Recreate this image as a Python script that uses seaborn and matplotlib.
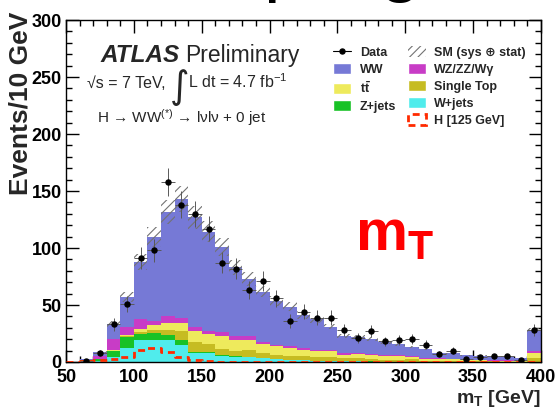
import numpy as np
import pandas as pd
import seaborn as sns
import matplotlib.pyplot as plt
from matplotlib.patches import Patch
from matplotlib.lines import Line2D
from matplotlib.ticker import MultipleLocator

sns.set_theme(style='ticks')
plt.rcParams['font.family'] = ['Liberation Sans', 'DejaVu Sans']
plt.rcParams['mathtext.fontset'] = 'custom'
plt.rcParams['mathtext.rm'] = 'Liberation Sans'
plt.rcParams['mathtext.it'] = 'Liberation Sans:italic'
plt.rcParams['mathtext.bf'] = 'Liberation Sans:bold'
plt.rcParams['hatch.linewidth'] = 0.8

# %% m_T distribution, H -> WW -> lvlv + 0 jet, 10 GeV bins from 50 to 400 GeV
bin_lo = list(range(50, 400, 10))

w_jets = [0, 0.5, 1, 4, 12, 19.5, 19.6, 19, 14.5, 8, 7.5, 5, 4.4, 4, 3.2, 2.3, 1.8, 1.4,
          1.0, 0.9, 0.6, 0.5, 0.4, 0.3, 0.3, 0.2, 0.2, 0.1, 0.1, 0.1, 0.1, 0.1, 0, 0, 0.3]
z_jets = [0, 1.0, 1.5, 5.5, 9.5, 5.5, 6, 5, 5, 1.2, 1, 0.8, 0.5, 0.5, 0.4, 0.3, 0.3, 0.2,
          0.2, 0.1, 0.1, 0.1, 0.1, 0.1, 0.1, 0, 0, 0, 0, 0, 0, 0, 0, 0, 0.1]
single_top = [0, 0, 0.2, 0.3, 1, 1.5, 2.5, 4.5, 7.5, 8.5, 7, 5.5, 4.5, 6, 4.3, 3.8, 3.4, 3.4,
              3.6, 3.4, 2.8, 2.9, 2.1, 1.6, 1.6, 2.3, 0.8, 0.8, 0.7, 0.5, 0.5, 0.4, 0.4, 0.3, 3.0]
ttbar = [0, 0.1, 0.3, 0.7, 1.5, 2.5, 4, 5.5, 7, 9.5, 9, 11.5, 10.2, 9, 8, 7.3, 6.8, 5.8,
         4.5, 4.9, 2.9, 3.2, 3.4, 3.5, 3.5, 1.9, 1.6, 1.7, 1.8, 1.2, 1.2, 0.8, 0.9, 0.6, 4.5]
diboson = [0, 0.3, 2, 9.5, 7, 9, 3.5, 6, 5, 3.8, 2.5, 3.2, 3.4, 3.5, 2, 1.5, 1.4, 1.5,
           1.5, 1.2, 1.5, 1.5, 1.0, 0.9, 0.9, 0.6, 0.9, 0.5, 0.4, 0.3, 0.3, 0.2, 0.2, 0.1, 1.5]
ww = [0.2, 0.6, 4, 13.3, 26, 50, 73.8, 91.3, 103.7, 96, 87.3, 74.6, 60, 49.8, 43.8, 38.3, 34.8, 28.9,
      26.6, 20.5, 14.9, 14, 13.2, 11.1, 9.1, 7.9, 7.6, 4.8, 4.6, 3.8, 3.2, 3.1, 3.1, 2.5, 18.6]
h125 = [0, 0.5, 1.5, 2.5, 4.5, 10.5, 12, 9, 4, 1.5, 0.8, 0.4, 0.2, 0.1, 0.1, 0, 0, 0,
        0, 0, 0, 0, 0, 0, 0, 0, 0, 0, 0, 0, 0, 0, 0, 0, 0]
data = [0, 1, 8, 33, 51, 91, 98, 158, 138, 130, 117, 87, 82, 63, 71, 56, 36, 44,
        39, 39, 28, 21, 27, 18, 19, 20, 15, 7, 10, 3, 4, 5, 5, 2, 28]
sm_unc = 0.08  # relative sys + stat on the SM sum

# first entry ends up on top of the stack
stack = {'WW': ww, 'WZ/ZZ/Wγ': diboson, 'ttbar': ttbar,
         'Single Top': single_top, 'Z+jets': z_jets, 'W+jets': w_jets}
colors = {'WW': '#7679d6', 'WZ/ZZ/Wγ': '#c83cc6', 'ttbar': '#eeea5c',
          'Single Top': '#c6bc22', 'Z+jets': '#18c226', 'W+jets': '#50ecec'}

edges = bin_lo + [bin_lo[-1] + 10]
centers = np.array(bin_lo) + 5
df = pd.concat([pd.DataFrame({'mT': centers, 'events': v, 'process': k}) for k, v in stack.items()])
sig = pd.DataFrame({'mT': centers, 'events': h125})

# %%
W, H = 557, 412
fig = plt.figure(figsize=(W / 100, H / 100), dpi=100)
ax = fig.add_axes([66 / W, 1 - 362 / H, (541 - 66) / W, (362 - 20) / H])

sns.histplot(data=df, x='mT', weights='events', hue='process', hue_order=list(stack),
             multiple='stack', bins=edges, element='step', fill=True, alpha=1,
             linewidth=0, palette=colors, legend=False, ax=ax)

total = np.sum([np.array(v) for v in stack.values()], axis=0)
total_ext = np.append(total, total[-1])
ax.fill_between(edges, total_ext * (1 - sm_unc), total_ext * (1 + sm_unc), step='post',
                facecolor='none', edgecolor='0.45', hatch='////', linewidth=0, zorder=3)

sns.histplot(data=sig, x='mT', weights='events', bins=edges, element='step', fill=False,
             color='#ff2a00', linewidth=2, linestyle=(0, (2.5, 1.8)), ax=ax, zorder=4)

data = np.array(data)
mask = data > 0
ax.errorbar(centers[mask], data[mask], xerr=5, yerr=np.sqrt(data[mask]), fmt='o', ms=3.6,
            color='black', ecolor='0.35', elinewidth=0.7, capsize=0, zorder=5)

ax.set_xlim(50, 400)
ax.set_ylim(0, 300)
ax.set_xlabel('')
ax.set_ylabel('')
ax.xaxis.set_major_locator(MultipleLocator(50))
ax.xaxis.set_minor_locator(MultipleLocator(10))
ax.yaxis.set_major_locator(MultipleLocator(50))
ax.yaxis.set_minor_locator(MultipleLocator(10))
ax.tick_params(which='both', direction='in', top=True, right=True, width=1, colors='black')
ax.tick_params(which='major', length=9, labelsize=13)
ax.tick_params(which='minor', length=4.5)
ax.tick_params(axis='x', pad=5)
ax.tick_params(axis='y', pad=3)
plt.setp(ax.get_xticklabels() + ax.get_yticklabels(), fontweight='bold')
for s in ax.spines.values():
    s.set_linewidth(1.0)
    s.set_color('black')

def fx(x):
    return x / W

def fy(y):
    return 1 - y / H

fig.text(fx(9), fy(12), 'Events/10 GeV', rotation=90, ha='left', va='top',
         fontsize=19, fontweight='bold')
fig.text(fx(541), fy(403), r'$\mathbf{m_T}$ [GeV]', ha='right', va='baseline',
         fontsize=14, fontweight='bold')

fig.text(fx(100), fy(62), 'ATLAS', fontsize=17.5, fontweight='bold', fontstyle='italic', va='baseline')
fig.text(fx(185), fy(62), 'Preliminary', fontsize=16.5, va='baseline')
fig.text(fx(87), fy(88), '√s = 7 TeV,', fontsize=11.5, va='baseline')
fig.text(fx(170), fy(98), '∫', fontsize=27, va='baseline', family=['DejaVu Sans'])
fig.text(fx(188), fy(88), 'L dt = 4.7 fb$^{-1}$', fontsize=11.5, va='baseline')
fig.text(fx(97), fy(123), 'H → WW$^{(*)}$ → lνlν + 0 jet', fontsize=11, va='baseline')

fig.text(fx(355), fy(250), r'$\mathbf{m}_{\mathbf{T}}$', color='#ff0000', fontsize=42, va='baseline')

# title of the slide, cut off above the picture
fig.text(fx(263), fy(-12), 'pling', fontsize=54, va='baseline', color='black')

handles = [
    Line2D([], [], color='black', marker='o', ms=3.6, lw=0.8),
    Patch(facecolor=colors['WW']),
    Patch(facecolor=colors['ttbar']),
    Patch(facecolor=colors['Z+jets']),
    Patch(facecolor='none', edgecolor='none'),
    Patch(facecolor='none', edgecolor='0.45', hatch='////', linewidth=0),
    Patch(facecolor=colors['WZ/ZZ/Wγ']),
    Patch(facecolor=colors['Single Top']),
    Patch(facecolor=colors['W+jets']),
    Patch(facecolor='none', edgecolor='#ff2a00', linestyle=(0, (2.5, 1.8)), linewidth=2),
]
labels = ['Data', 'WW', r'$\mathbf{t\bar{t}}$', 'Z+jets', '',
          'SM (sys ⊕ stat)', 'WZ/ZZ/Wγ', 'Single Top', 'W+jets', 'H [125 GeV]']
fig.legend(handles, labels, ncol=2, loc='upper left', bbox_to_anchor=(fx(333), fy(46)),
           frameon=False, prop={'weight': 'bold', 'size': 9}, borderpad=0, borderaxespad=0,
           handlelength=1.45, handleheight=0.95, handletextpad=0.7, columnspacing=0.9,
           labelspacing=0.35)

fig.savefig('out.png', dpi=100)
